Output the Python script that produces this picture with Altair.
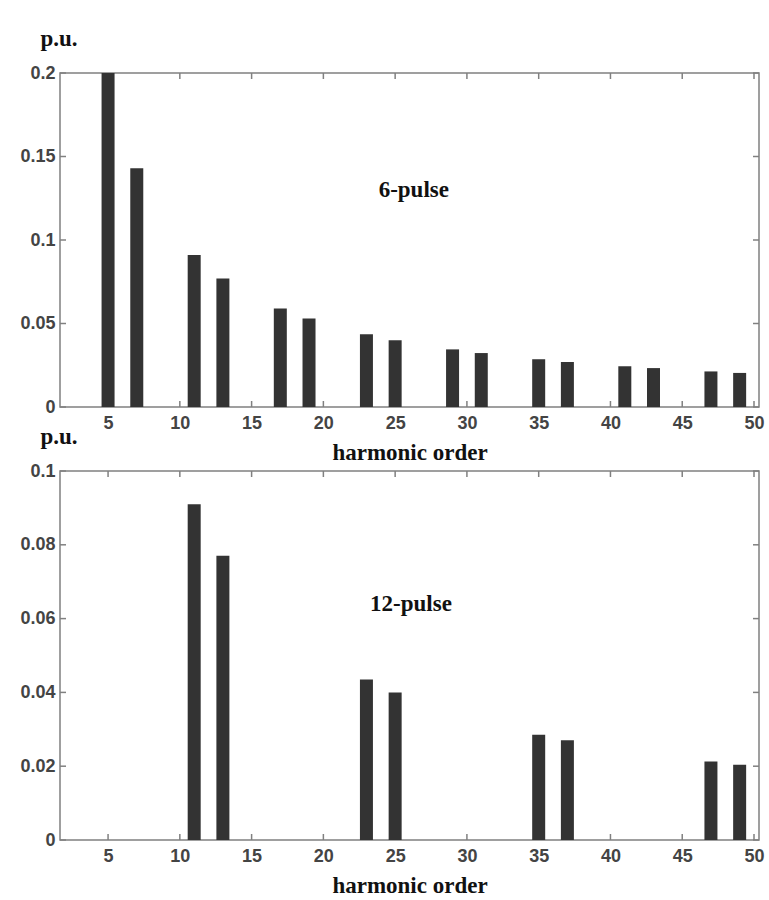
import altair as alt
import pandas as pd

# ---- data ----
harmonics_6 = [5, 7, 11, 13, 17, 19, 23, 25, 29, 31, 35, 37, 41, 43, 47, 49]
values_6 = [0.200, 0.143, 0.091, 0.077, 0.059, 0.053, 0.0435, 0.040,
            0.0345, 0.0323, 0.0286, 0.027, 0.0244, 0.0233, 0.0213, 0.0204]
harmonics_12 = [11, 13, 23, 25, 35, 37, 47, 49]
values_12 = [0.091, 0.077, 0.0435, 0.040, 0.0285, 0.027, 0.0213, 0.0204]

x_tick_values = [5, 10, 15, 20, 25, 30, 35, 40, 45, 50]
y_tick_values_6 = [0, 0.05, 0.1, 0.15, 0.2]
y_tick_values_12 = [0, 0.02, 0.04, 0.06, 0.08, 0.1]

panel_labels = ["6-pulse", "12-pulse"]
panel_label_x = [26.3, 26.1]
panel_label_y = [0.130, 0.064]

FRAME = "#808080"
BAR = "#333333"
SERIF = "Liberation Serif"
SANS = "Liberation Sans"
W = 699


def panel(harm, vals, yticks, ymax, height, label, lx, ly):
    xs = alt.Scale(domain=[2, 50], nice=False, zero=False)
    ys = alt.Scale(domain=[0, ymax], nice=False)
    x_axis = alt.Axis(values=x_tick_values, title="harmonic order",
                      labelPadding=7, titlePadding=9)
    y_axis = alt.Axis(values=yticks, title="p.u.", format="~g", titleAngle=0,
                      titleAlign="left", titleBaseline="alphabetic",
                      titleX=-20, titleY=-28, labelPadding=5)
    bars_df = pd.DataFrame({"h": harm, "v": vals})
    bars = alt.Chart(bars_df).mark_bar(size=13, color=BAR).encode(
        x=alt.X("h:Q", scale=xs, axis=x_axis),
        y=alt.Y("v:Q", scale=ys, axis=y_axis),
    )
    xt = pd.DataFrame({"h": x_tick_values})
    yt = pd.DataFrame({"v": yticks})
    tx_bottom = alt.Chart(xt).mark_rule(color=FRAME, strokeWidth=1.5).encode(
        x=alt.X("h:Q", scale=xs, axis=x_axis),
        y=alt.value(height), y2=alt.value(height - 6))
    tx_top = alt.Chart(xt).mark_rule(color=FRAME, strokeWidth=1.5).encode(
        x=alt.X("h:Q", scale=xs, axis=x_axis),
        y=alt.value(0), y2=alt.value(6))
    ty_left = alt.Chart(yt).mark_rule(color=FRAME, strokeWidth=1.5).encode(
        y=alt.Y("v:Q", scale=ys, axis=y_axis),
        x=alt.value(0), x2=alt.value(6))
    ty_right = alt.Chart(yt).mark_rule(color=FRAME, strokeWidth=1.5).encode(
        y=alt.Y("v:Q", scale=ys, axis=y_axis),
        x=alt.value(W), x2=alt.value(W - 6))
    lab_df = pd.DataFrame({"h": [lx], "v": [ly], "t": [label]})
    lab = alt.Chart(lab_df).mark_text(font=SERIF, fontWeight="bold", fontSize=23,
                                      color="#111111", align="center",
                                      baseline="middle").encode(
        x=alt.X("h:Q", scale=xs, axis=x_axis),
        y=alt.Y("v:Q", scale=ys, axis=y_axis),
        text="t:N")
    return alt.layer(tx_bottom, tx_top, ty_left, ty_right, bars, lab).properties(
        width=W, height=height)


top = panel(harmonics_6, values_6, y_tick_values_6, 0.2, 334,
            panel_labels[0], panel_label_x[0], panel_label_y[0])
bottom = panel(harmonics_12, values_12, y_tick_values_12, 0.1, 369,
               panel_labels[1], panel_label_x[1], panel_label_y[1])

chart = alt.vconcat(top, bottom, spacing=64, bounds="flush").properties(
    padding={"left": 19, "top": 26, "right": 0, "bottom": 0},
    background="white",
).configure_view(
    stroke=FRAME, strokeWidth=1.5
).configure_axis(
    domain=False, ticks=False, grid=False,
    labelFont=SANS, labelFontSize=18, labelFontWeight="bold", labelColor="#444444",
    titleFont=SERIF, titleFontSize=23, titleFontWeight="bold", titleColor="#111111",
)

chart.save("out.html", embed_options={"renderer": "svg", "actions": False})
